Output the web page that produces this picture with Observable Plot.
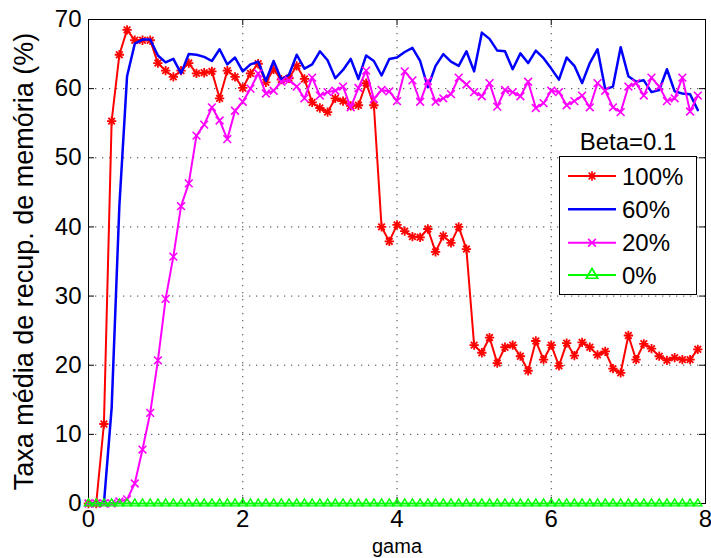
<!DOCTYPE html>
<html>
<head>
<meta charset="utf-8">
<script src="https://cdn.jsdelivr.net/npm/d3@7"></script>
<script src="https://cdn.jsdelivr.net/npm/@observablehq/plot@0.6"></script>
<style>
  html, body { margin: 0; padding: 0; background: white; }
  #wrap { position: relative; width: 711px; height: 558px; }
  #legend { position: absolute; left: 540px; top: 120px; }
</style>
</head>
<body>
<div id="wrap"></div>
<script>
// ---- data ----
const gama = [0,0.1,0.2,0.3,0.4,0.5,0.6,0.7,0.8,0.9,1.0,1.1,1.2,1.3,1.4,1.5,1.6,1.7,1.8,1.9,
  2.0,2.1,2.2,2.3,2.4,2.5,2.6,2.7,2.8,2.9,3.0,3.1,3.2,3.3,3.4,3.5,3.6,3.7,3.8,3.9,
  4.0,4.1,4.2,4.3,4.4,4.5,4.6,4.7,4.8,4.9,5.0,5.1,5.2,5.3,5.4,5.5,5.6,5.7,5.8,5.9,
  6.0,6.1,6.2,6.3,6.4,6.5,6.6,6.7,6.8,6.9,7.0,7.1,7.2,7.3,7.4,7.5,7.6,7.7,7.8,7.9];

const s100 = [0,0,11.5,55.3,64.9,68.5,67.0,67.0,67.0,63.7,62.6,61.7,62.6,63.7,62.2,62.3,62.5,58.6,62.6,61.7,
  60.1,62.2,63.6,60.9,62.8,61.3,61.5,63.3,61.4,58.0,57.2,56.6,58.6,58.2,57.5,57.6,60.8,57.6,40.0,37.9,
  40.3,39.4,38.6,38.5,39.7,36.4,38.7,37.7,40.0,36.8,22.9,21.8,24.0,20.3,22.6,22.9,21.3,19.2,23.5,20.8,
  22.9,19.9,23.2,21.4,23.3,22.6,21.5,22.0,19.5,18.9,24.3,20.8,23.1,22.4,21.3,20.7,21.1,20.8,20.8,22.3];

const s60 = [0,0,0,13.8,43.0,61.8,66.5,67.1,67.1,64.8,63.8,64.3,62.2,65.0,64.9,64.6,64.0,65.7,63.5,64.5,
  62.5,63.5,63.9,61.1,64.0,61.3,62.0,64.9,62.9,63.5,65.4,64.1,61.5,62.7,64.3,61.4,64.8,64.0,61.9,64.3,
  64.5,65.3,65.9,64.0,60.2,63.3,65.0,63.9,63.3,65.4,62.5,68.1,67.2,65.5,65.4,62.8,65.1,63.7,65.5,64.4,
  62.9,61.3,64.5,63.3,60.8,63.7,65.7,59.9,60.3,66.0,61.8,61.0,61.2,59.5,59.8,62.8,59.6,59.3,59.2,56.9];

const s20 = [0,0,0,0,0.3,0.6,2.9,7.8,13.1,20.7,29.6,35.7,43.0,46.3,53.2,54.8,57.3,55.4,52.7,56.8,
  58.1,60.0,62.2,59.3,59.7,61.0,61.2,60.3,58.6,61.6,59.0,59.5,59.7,60.3,57.3,60.1,62.6,58.5,59.8,59.6,
  58.2,62.5,61.2,58.1,61.1,58.1,58.6,59.2,61.6,60.6,59.5,58.9,60.8,57.4,59.8,59.5,58.9,61.0,57.2,57.9,
  59.7,59.5,57.6,58.2,59.0,57.3,60.8,59.7,57.3,56.6,60.3,60.8,59.0,61.6,60.3,58.2,58.6,61.6,56.7,59.0];

const s0 = [0,0,0,0,0,0,0,0,0,0,0,0,0,0,0,0,0,0,0,0,
  0,0,0,0,0,0,0,0,0,0,0,0,0,0,0,0,0,0,0,0,
  0,0,0,0,0,0,0,0,0,0,0,0,0,0,0,0,0,0,0,0,
  0,0,0,0,0,0,0,0,0,0,0,0,0,0,0,0,0,0,0,0];

const xTicks = [0, 2, 4, 6, 8];
const yTicks = [0, 10, 20, 30, 40, 50, 60, 70];
const seriesNames = ["100%", "60%", "20%", "0%"];
const legendTitle = "Beta=0.1";
const xLabel = "gama";
const yLabel = "Taxa média de recup. de memória (%)";

// ---- build ----
const rows = (ys) => gama.map((x, i) => ({x, y: ys[i]}));
const r100 = rows(s100), r60 = rows(s60), r20 = rows(s20), r0 = rows(s0);

const W = 711, H = 558, mL = 88, mR = 6, mT = 19, mB = 55;
const fw = W - mL - mR, fh = H - mT - mB, tk = 6;
const font = "'Liberation Sans', Arial, Helvetica, sans-serif";

const RED = "#ff0000", BLUE = "#0000ff", MAG = "#ff00ff", GREEN = "#00ff00";

const chart = Plot.plot({
  width: W, height: H,
  marginLeft: mL, marginRight: mR, marginTop: mT, marginBottom: mB,
  style: {fontFamily: font, fontSize: "24px", background: "white", color: "black", overflow: "visible"},
  x: {domain: [0, 8]},
  y: {domain: [0, 70]},
  marks: [
    Plot.gridX(xTicks, {stroke: "#222", strokeOpacity: 0.85, strokeDasharray: "1.3,5.7", strokeWidth: 1}),
    Plot.gridY(yTicks, {stroke: "#222", strokeOpacity: 0.85, strokeDasharray: "1.3,5.7", strokeWidth: 1}),
    Plot.frame({stroke: "black", strokeWidth: 1}),
    Plot.ruleX(xTicks, {x: d => d, insetTop: fh - tk, stroke: "black"}),
    Plot.ruleX(xTicks, {x: d => d, insetBottom: fh - tk, stroke: "black"}),
    Plot.ruleY(yTicks, {y: d => d, insetRight: fw - tk, stroke: "black"}),
    Plot.ruleY(yTicks, {y: d => d, insetLeft: fw - tk, stroke: "black"}),
    Plot.axisX(xTicks, {tickSize: 0, tickPadding: 6, fontSize: 24, label: null}),
    Plot.axisY(yTicks, {tickSize: 0, tickPadding: 7, fontSize: 24, label: null}),
    Plot.text([xLabel], {frameAnchor: "bottom", dy: 49, lineAnchor: "bottom", textAnchor: "middle", fontSize: 20, fill: "black"}),
    Plot.text([yLabel], {frameAnchor: "left", dx: -56, rotate: -90, lineAnchor: "bottom", textAnchor: "middle", fontSize: 27, fill: "black"}),
    // 100%
    Plot.line(r100, {x: "x", y: "y", stroke: RED, strokeWidth: 2}),
    Plot.dot(r100, {x: "x", y: "y", symbol: "plus", r: 3.1, stroke: RED, strokeWidth: 1.8}),
    Plot.dot(r100, {x: "x", y: "y", symbol: "times", r: 3.1, stroke: RED, strokeWidth: 1.8}),
    // 60%
    Plot.line(r60, {x: "x", y: "y", stroke: BLUE, strokeWidth: 2.5}),
    // 20%
    Plot.line(r20, {x: "x", y: "y", stroke: MAG, strokeWidth: 2}),
    Plot.dot(r20, {x: "x", y: "y", symbol: "times", r: 3.6, stroke: MAG, strokeWidth: 1.6}),
    // 0%
    Plot.line(r0, {x: "x", y: "y", stroke: GREEN, strokeWidth: 2}),
    Plot.dot(r0, {x: "x", y: "y", symbol: "triangle", r: 3, fill: "none", stroke: GREEN, strokeWidth: 1.4})
  ]
});
document.getElementById("wrap").appendChild(chart);

// ---- legend (overlay) ----
const lg = d3.select("#wrap").append("svg").attr("id", "legend")
  .attr("width", 171).attr("height", 180)
  .style("font-family", font).style("font-size", "24px");
lg.append("text").attr("x", 88).attr("y", 30).attr("text-anchor", "middle").text(legendTitle);
lg.append("rect").attr("x", 19.5).attr("y", 36.5).attr("width", 137).attr("height", 138)
  .attr("fill", "white").attr("stroke", "black").attr("stroke-width", 1);
const cols = [RED, BLUE, MAG, GREEN];
const ly = [56, 89.3, 122.7, 155];
seriesNames.forEach((name, i) => {
  const g = lg.append("g");
  g.append("line").attr("x1", 28).attr("x2", 76).attr("y1", ly[i]).attr("y2", ly[i])
    .attr("stroke", cols[i]).attr("stroke-width", i === 1 ? 2.5 : 2);
  const sym = (type, size) => g.append("path")
    .attr("d", d3.symbol(type, size)())
    .attr("transform", `translate(52,${ly[i]})`)
    .attr("fill", "none").attr("stroke", cols[i]).attr("stroke-width", 1.7);
  if (i === 0) { sym(d3.symbolPlus, Math.PI * 3.1 * 3.1); sym(d3.symbolTimes, Math.PI * 3.1 * 3.1); }
  if (i === 2) { sym(d3.symbolTimes, Math.PI * 3.6 * 3.6); }
  if (i === 3) { sym(d3.symbolTriangle, Math.PI * 4.2 * 4.2); }
  g.append("text").attr("x", 82).attr("y", ly[i] + 8.5).text(name);
});
</script>
</body>
</html>
